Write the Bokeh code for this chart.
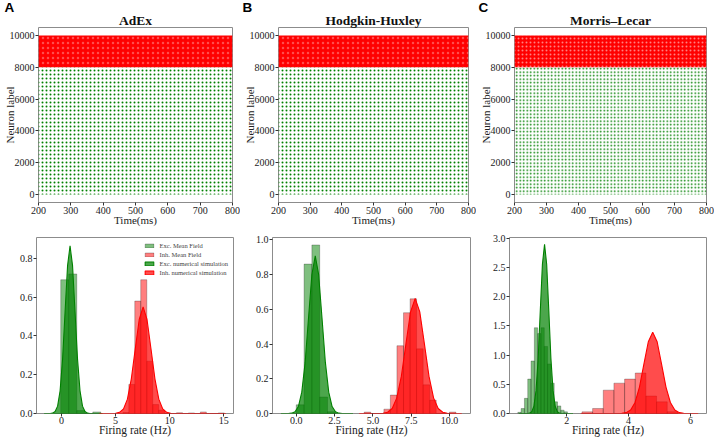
from bokeh.plotting import figure
from bokeh.layouts import column, row
from bokeh.models import Range1d, FixedTicker, NumeralTickFormatter, Title, Legend, LegendItem
from bokeh.embed import file_html
from bokeh.resources import INLINE

# ---------------- data ----------------
model_names = ["AdEx", "Hodgkin-Huxley", "Morris\u2013Lecar"]
panel_letters = ["A", "B", "C"]

# raster plots: recorded time window and neuron-label bands
time_window_ms = [200, 800]
exc_label_range = [0, 8000]
inh_label_range = [8000, 10000]
raster_xticks = [200, 300, 400, 500, 600, 700, 800]
raster_yticks = [0, 2000, 4000, 6000, 8000, 10000]

# firing-rate histograms (bin edges, densities)
a_exc_edges = [-0.06, 0.68, 1.42, 2.16, 2.90, 3.64]
a_exc_dens = [0.69, 0.72, 0.015, 0.0, 0.008]
a_inh_edges = [5.68, 6.23, 6.78, 7.33, 7.89, 8.44, 8.99, 9.54, 10.09, 10.64,
               11.19, 11.74, 12.29, 12.84, 13.39, 13.95, 14.50, 15.05]
a_inh_dens = [0.005, 0.15, 0.58, 0.69, 0.27, 0.046, 0.017, 0.0, 0.0, 0.004,
              0.0, 0.003, 0.0, 0.008, 0.0, 0.0, 0.003]

b_exc_edges = [0.0, 0.51, 1.02, 1.53, 2.04, 2.55]
b_exc_dens = [0.05, 0.86, 0.97, 0.095, 0.01]
b_inh_edges = [4.43, 4.86, 5.29, 5.72, 6.14, 6.57, 7.00, 7.43, 7.85, 8.28,
               8.71, 9.13, 9.56, 9.99, 10.42]
b_inh_dens = [0.008, 0.0, 0.0, 0.025, 0.106, 0.39, 0.58, 0.66, 0.372, 0.165,
              0.077, 0.0, 0.0, 0.008]

c_exc_edges = [0.415, 0.522, 0.629, 0.736, 0.843, 0.950, 1.057, 1.164, 1.271,
               1.378, 1.485, 1.592, 1.699, 1.806, 1.913, 2.020]
c_exc_dens = [0.02, 0.085, 0.26, 0.59, 0.90, 1.47, 1.37, 1.47, 1.15, 0.85,
              0.52, 0.20, 0.13, 0.057, 0.028]
c_inh_edges = [2.49, 2.835, 3.18, 3.525, 3.87, 4.215, 4.56, 4.905, 5.25, 5.595]
c_inh_dens = [0.028, 0.086, 0.40, 0.52, 0.59, 0.694, 0.30, 0.20, 0.03]

# smooth density curves (x, y)
a_exc_curve_x = [-1.6, -1.04, -0.81, -0.58, -0.35, -0.12, 0.11, 0.34, 0.57, 0.80,
                 1.03, 1.26, 1.49, 1.72, 1.95, 2.18, 2.41, 2.64, 3.8]
a_exc_curve_y = [0.0, 0.0, 0.002, 0.010, 0.038, 0.117, 0.281, 0.525, 0.763, 0.865,
                 0.763, 0.525, 0.281, 0.117, 0.038, 0.010, 0.002, 0.0, 0.0]
a_inh_curve_x = [3.5, 4.65, 5.01, 5.375, 5.74, 6.10, 6.46, 6.825, 7.19, 7.55,
                 7.91, 8.275, 8.64, 9.00, 9.36, 9.725, 10.09, 10.45, 15.2]
a_inh_curve_y = [0.0, 0.0, 0.001, 0.006, 0.024, 0.074, 0.179, 0.334, 0.485, 0.550,
                 0.485, 0.334, 0.179, 0.074, 0.024, 0.006, 0.001, 0.0, 0.0]
b_exc_curve_x = [-1.0, -0.52, -0.30, -0.08, 0.14, 0.36, 0.58, 0.80, 1.02, 1.24,
                 1.46, 1.68, 1.90, 2.12, 2.34, 2.56, 2.78, 3.00, 3.7]
b_exc_curve_y = [0.0, 0.0, 0.002, 0.010, 0.040, 0.123, 0.294, 0.550, 0.800, 0.907,
                 0.800, 0.550, 0.294, 0.123, 0.040, 0.010, 0.002, 0.0, 0.0]
b_inh_curve_x = [4.1, 5.36, 5.66, 5.96, 6.26, 6.56, 6.86, 7.16, 7.46, 7.76,
                 8.06, 8.36, 8.66, 8.96, 9.26, 9.56, 9.86, 10.16, 10.8]
b_inh_curve_y = [0.0, 0.0, 0.001, 0.007, 0.029, 0.090, 0.215, 0.402, 0.585, 0.663,
                 0.585, 0.402, 0.215, 0.090, 0.029, 0.007, 0.001, 0.0, 0.0]
c_exc_curve_x = [0.45, 0.730, 0.798, 0.867, 0.936, 1.005, 1.074, 1.142, 1.211, 1.280,
                 1.349, 1.418, 1.486, 1.555, 1.624, 1.693, 1.762, 1.830, 2.2]
c_exc_curve_y = [0.0, 0.001, 0.006, 0.032, 0.127, 0.392, 0.942, 1.759, 2.559, 2.900,
                 2.559, 1.759, 0.942, 0.392, 0.127, 0.032, 0.006, 0.001, 0.0]
c_inh_curve_x = [2.45, 3.636, 3.779, 3.922, 4.065, 4.208, 4.351, 4.494, 4.637, 4.780,
                 4.923, 5.066, 5.209, 5.352, 5.495, 5.638, 5.781, 5.924, 6.25]
c_inh_curve_y = [0.0, 0.0, 0.003, 0.015, 0.061, 0.189, 0.453, 0.845, 1.230, 1.394,
                 1.230, 0.845, 0.453, 0.189, 0.061, 0.015, 0.003, 0.0, 0.0]

hist_xranges = [(-2.3, 15.9), (-1.55, 11.37), (0.146, 6.52)]
hist_yranges = [(0.0, 0.908), (0.0, 1.013), (0.0, 3.017)]
hist_xticks = [[0, 5, 10, 15], [0.0, 2.5, 5.0, 7.5, 10.0], [2, 4, 6]]
hist_xfmt = ["0", "0.0", "0"]
hist_yticks = [[0.0, 0.2, 0.4, 0.6, 0.8], [0.0, 0.2, 0.4, 0.6, 0.8, 1.0],
               [0.0, 0.5, 1.0, 1.5, 2.0, 2.5, 3.0]]

hist_data = [
    (a_exc_edges, a_exc_dens, a_inh_edges, a_inh_dens,
     a_exc_curve_x, a_exc_curve_y, a_inh_curve_x, a_inh_curve_y),
    (b_exc_edges, b_exc_dens, b_inh_edges, b_inh_dens,
     b_exc_curve_x, b_exc_curve_y, b_inh_curve_x, b_inh_curve_y),
    (c_exc_edges, c_exc_dens, c_inh_edges, c_inh_dens,
     c_exc_curve_x, c_exc_curve_y, c_inh_curve_x, c_inh_curve_y),
]
legend_labels = ["Exc. Mean Field", "Inh. Mean Field",
                 "Exc. numerical simulation", "Inh. numerical simulation"]

# ---------------- layout / style ----------------
SERIF = "Liberation Serif"
GREEN = "#008000"
RED = "#ff0000"
top_w = [240, 236, 238]
top_border_left = [20, 20, 20]       # the y axis decides the real width
bot_w = [241, 237, 236]
bot_border_left = [36, 31, 31]
border_right = 8
ylabel_standoff = -9
letter_offset = [-34, -36, -36]
top_h, top_border_top, top_border_bottom = 230, 26, 28
bot_h, bot_border_top, bot_border_bottom = 210, 7, 27

# dot textures of the raster bands (per panel)
exc_texture = [(4.0, 1.3), (4.0, 1.3), (3.5, 1.3)]
inh_white = [(5, 0.3), (5, 0.3), (4, 0.5)]


def style(p, xticks, yticks):
    p.xaxis.ticker = FixedTicker(ticks=xticks, minor_ticks=[])
    p.yaxis.ticker = FixedTicker(ticks=yticks, minor_ticks=[])
    for ax in (p.xaxis[0], p.yaxis[0]):
        ax.axis_line_color = None
        ax.major_tick_out = 3
        ax.major_tick_in = 0
        ax.minor_tick_out = 0
        ax.minor_tick_in = 0
        ax.major_tick_line_color = "#333333"
        ax.major_label_standoff = 1
        ax.major_label_text_font = SERIF
        ax.major_label_text_font_size = "10px"
        ax.major_label_text_color = "#222222"
        ax.axis_label_text_font = SERIF
        ax.axis_label_text_font_style = "normal"
        ax.axis_label_text_font_size = "11px"
        ax.axis_label_text_color = "#222222"
        ax.axis_label_standoff = -3
    p.outline_line_color = "#8c8c8c"
    p.outline_line_width = 1
    p.xgrid.visible = False
    p.ygrid.visible = False


top_figs = []
for i in range(3):
    p = figure(width=top_w[i], height=top_h,
               min_border_left=top_border_left[i], min_border_right=border_right,
               min_border_top=top_border_top, min_border_bottom=top_border_bottom,
               x_range=Range1d(time_window_ms[0], time_window_ms[1]),
               y_range=Range1d(-500, 10500),
               output_backend="svg", toolbar_location=None, title=panel_letters[i])
    # panel letter (plot title)
    p.title.align = "left"
    p.title.offset = letter_offset[i]
    p.title.vertical_align = "middle"
    p.title.text_font = "Liberation Sans"
    p.title.text_font_style = "bold"
    p.title.text_font_size = "13.5px"
    p.title.text_color = "#000000"
    p.title.standoff = -4
    # model name
    p.add_layout(Title(text=model_names[i], align="center", standoff=-3.5,
                       vertical_align="middle", text_font=SERIF, text_font_style="bold",
                       text_font_size="13.5px", text_color="#111111"), "above")
    style(p, raster_xticks, raster_yticks)
    p.xaxis.axis_label = "Time(ms)"
    p.yaxis.axis_label = "Neuron label"
    p.yaxis.axis_label_standoff = ylabel_standoff
    # excitatory band (green dots)
    sc, wt = exc_texture[i]
    p.quad(left=[time_window_ms[0]], right=[time_window_ms[1]],
           bottom=[exc_label_range[0]], top=[exc_label_range[1]],
           fill_alpha=0, line_alpha=0, hatch_pattern="dot",
           hatch_color=GREEN, hatch_scale=sc, hatch_weight=wt, hatch_alpha=1.0)
    # inhibitory band (red dots)
    sc, wa = inh_white[i]
    p.quad(left=[time_window_ms[0]], right=[time_window_ms[1]],
           bottom=[inh_label_range[0]], top=[inh_label_range[1]],
           fill_color=RED, fill_alpha=1, line_alpha=0, hatch_pattern="dot",
           hatch_color="white", hatch_scale=sc, hatch_weight=0.6, hatch_alpha=wa)
    top_figs.append(p)

bot_figs = []
for i in range(3):
    (ee, ed, ie, idn, ecx, ecy, icx, icy) = hist_data[i]
    p = figure(width=bot_w[i], height=bot_h,
               min_border_left=bot_border_left[i], min_border_right=border_right,
               min_border_top=bot_border_top, min_border_bottom=bot_border_bottom,
               x_range=Range1d(*hist_xranges[i]), y_range=Range1d(*hist_yranges[i]),
               output_backend="svg", toolbar_location=None, title=None)
    style(p, hist_xticks[i], hist_yticks[i])
    p.xaxis.formatter = NumeralTickFormatter(format=hist_xfmt[i])
    p.yaxis.formatter = NumeralTickFormatter(format="0.0")
    p.xaxis.axis_label = "Firing rate (Hz)"
    p.xaxis.axis_label_text_font_size = "11.5px"
    p.xaxis.major_label_standoff = 0
    r_eh = p.quad(left=ee[:-1], right=ee[1:], bottom=0, top=ed,
                  fill_color=GREEN, fill_alpha=0.5, line_color="black", line_alpha=0.35,
                  line_width=0.7)
    r_ih = p.quad(left=ie[:-1], right=ie[1:], bottom=0, top=idn,
                  fill_color=RED, fill_alpha=0.5, line_color="black", line_alpha=0.35,
                  line_width=0.7)
    r_ec = p.patch(ecx, ecy, fill_color=GREEN, fill_alpha=0.7, line_color=GREEN, line_width=1.1)
    r_ic = p.patch(icx, icy, fill_color=RED, fill_alpha=0.7, line_color=RED, line_width=1.1)
    if i == 0:
        leg = Legend(items=[LegendItem(label=legend_labels[0], renderers=[r_eh]),
                            LegendItem(label=legend_labels[1], renderers=[r_ih]),
                            LegendItem(label=legend_labels[2], renderers=[r_ec]),
                            LegendItem(label=legend_labels[3], renderers=[r_ic])],
                     location="top_right", label_text_font=SERIF,
                     label_text_font_size="6.5px", glyph_width=11, glyph_height=5,
                     label_height=7, spacing=2, padding=2, margin=3, label_standoff=5,
                     border_line_alpha=0, background_fill_alpha=0)
        p.add_layout(leg)
    bot_figs.append(p)

layout = column(row(*top_figs, spacing=0), row(*bot_figs, spacing=0), spacing=0)
open("out.html", "w").write(file_html(layout, INLINE))
